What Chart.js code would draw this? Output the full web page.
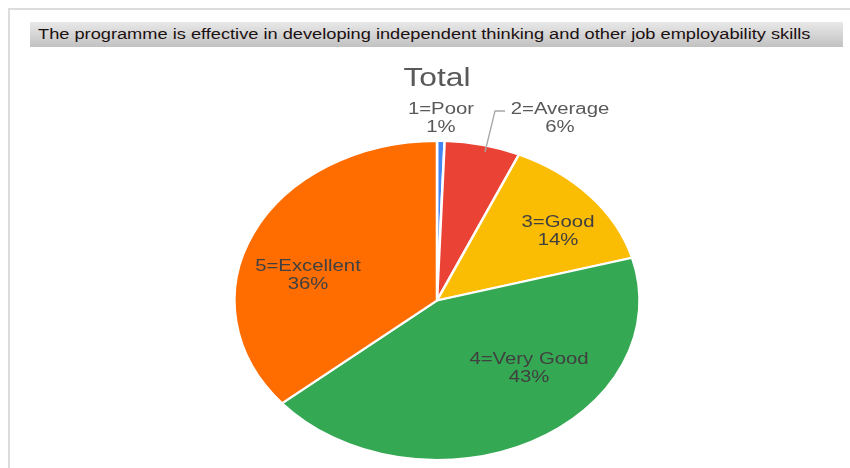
<!DOCTYPE html>
<html>
<head>
<meta charset="utf-8">
<title>Total</title>
<script src="https://cdn.jsdelivr.net/npm/chart.js"></script>
<style>
  body { margin: 0; background: #fff; }
  #wrap { position: relative; width: 850px; height: 468px; overflow: hidden; }
  #frame { position: absolute; left: 8px; top: 8px; width: 900px; height: 500px;
           border-top: 2px solid #dcdcdc; border-left: 2px solid #dcdcdc; }
  #bar { position: absolute; left: 30px; top: 22px; width: 813px; height: 25px;
         background: linear-gradient(#e8e8e8, #c2c2c2); }
  #bar span { position: absolute; left: 8px; top: 4px; white-space: nowrap;
              font: 14px "Liberation Sans", Arial, sans-serif; color: #1c1010;
              transform-origin: left center; }
  canvas { position: absolute; left: 0; top: 0; }
</style>
</head>
<body>
<div id="wrap">
  <div id="frame"></div>
  <div id="bar"><span id="heading">The programme is effective in developing independent thinking and other job employability skills</span></div>
  <canvas id="pieChart" width="850" height="468"></canvas>
</div>
<script>
// data (percent of answers, 1=Poor is a thin sliver that rounds to 1%)
const categories = ['1=Poor', '2=Average', '3=Good', '4=Very Good', '5=Excellent'];
const shares = [0.6, 6, 14, 43, 36];
const sliceColors = ['#4285F4', '#EA4335', '#FBBC04', '#34A853', '#FF6D01'];

// the original picture is stretched sideways, so is this one
const STRETCH = 1.27;

// stretch the header text to the width it has in the picture
const heading = document.getElementById('heading');
heading.style.transform = 'scaleX(' + (773 / heading.offsetWidth) + ')';

// where each slice label sits (line 1 centre), and its colour
const labelSpots = [
    {x: 441, y: 110, color: '#595959'},
    {x: 560, y: 110, color: '#595959'},
    {x: 558, y: 223, color: '#404040'},
    {x: 529, y: 360, color: '#404040'},
    {x: 308, y: 267, color: '#404040'}
];

const stretchPlugin = {
    id: 'stretch',
    beforeDraw: function (chart) {
        const ctx = chart.ctx;
        const cx = (chart.chartArea.left + chart.chartArea.right) / 2;
        ctx.save();
        ctx.translate(cx, 0);
        ctx.scale(STRETCH, 1);
        ctx.translate(-cx, 0);
    },
    afterDraw: function (chart) {
        const ctx = chart.ctx;
        ctx.restore();

        const total = shares.reduce(function (a, b) { return a + b; }, 0);

        // leader line for the small "2=Average" slice
        ctx.save();
        ctx.strokeStyle = '#a6a6a6';
        ctx.lineWidth = 1.3;
        ctx.beginPath();
        ctx.moveTo(485, 152);
        ctx.lineTo(495, 111);
        ctx.lineTo(505, 111);
        ctx.stroke();
        ctx.restore();

        categories.forEach(function (name, i) {
            const spot = labelSpots[i];
            const pct = Math.max(1, Math.round(shares[i] / total * 100)) + '%';
            ctx.save();
            ctx.translate(spot.x, spot.y);
            ctx.scale(STRETCH, 1);
            ctx.font = '16px "Liberation Sans", Arial, sans-serif';
            ctx.fillStyle = spot.color;
            ctx.textAlign = 'center';
            ctx.textBaseline = 'middle';
            ctx.fillText(name, 0, 0);
            ctx.fillText(pct, 0, 18);
            ctx.restore();
        });
    }
};

const ctxP = document.getElementById('pieChart').getContext('2d');
const myPieChart = new Chart(ctxP, {
    type: 'pie',
    data: {
        labels: categories,
        datasets: [{
            data: shares,
            backgroundColor: sliceColors,
            borderColor: '#ffffff',
            borderWidth: 2
        }]
    },
    options: {
        responsive: false,
        animation: false,
        events: [],
        layout: {
            padding: {left: 237, right: 213, top: 52, bottom: 7}
        },
        plugins: {
            legend: {display: false},
            tooltip: {enabled: false},
            title: {
                display: true,
                text: 'Total',
                color: '#595959',
                font: {family: '"Liberation Sans", Arial, sans-serif', size: 25, weight: 'normal'},
                padding: {top: 12, bottom: 46}
            }
        }
    },
    plugins: [stretchPlugin]
});
</script>
</body>
</html>
